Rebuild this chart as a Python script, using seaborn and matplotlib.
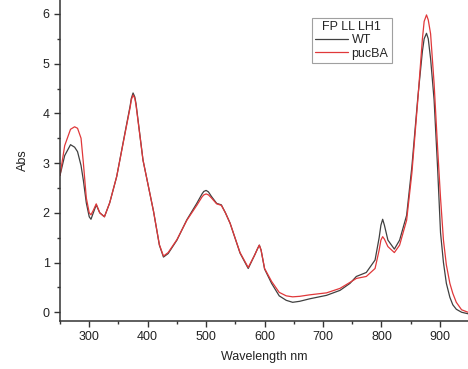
import matplotlib
matplotlib.use("Agg")
import matplotlib.pyplot as plt
import seaborn as sns
import pandas as pd
from matplotlib.ticker import MultipleLocator

wavelength = [250, 258, 268, 275, 280, 286, 290, 295, 300, 303, 307, 312, 318, 326,
              335, 347, 361, 370, 372, 375, 378, 380, 392, 410, 420, 427, 435, 450,
              467, 484, 493, 496, 500, 504, 509, 518, 526, 533, 541, 558, 572, 583,
              588, 591, 594, 600, 612, 625, 637, 648, 660, 677, 706, 729, 746, 757,
              774, 789, 796, 799, 802, 805, 811, 822, 831, 843, 852, 862, 870, 873,
              877, 880, 884, 890, 896, 901, 906, 911, 917, 922, 928, 937, 948]

wt = [2.75, 3.15, 3.37, 3.32, 3.23, 2.95, 2.65, 2.20, 1.92, 1.87, 2.00, 2.16, 2.00, 1.92,
      2.20, 2.73, 3.60, 4.15, 4.30, 4.41, 4.33, 4.20, 3.06, 2.03, 1.35, 1.11, 1.18, 1.45,
      1.86, 2.19, 2.38, 2.43, 2.45, 2.42, 2.33, 2.19, 2.16, 2.00, 1.79, 1.19, 0.88, 1.15,
      1.28, 1.35, 1.25, 0.87, 0.58, 0.33, 0.24, 0.20, 0.22, 0.27, 0.34, 0.44, 0.58, 0.72,
      0.80, 1.05, 1.50, 1.75, 1.87, 1.75, 1.45, 1.27, 1.45, 1.95, 2.93, 4.30, 5.25, 5.50,
      5.61, 5.50, 5.10, 4.27, 2.90, 1.60, 1.00, 0.58, 0.30, 0.15, 0.06, 0.00, -0.03]

pucba = [2.75, 3.35, 3.68, 3.73, 3.70, 3.50, 3.00, 2.30, 2.00, 1.96, 2.05, 2.18, 2.00, 1.92,
         2.20, 2.73, 3.58, 4.12, 4.27, 4.37, 4.30, 4.17, 3.06, 2.03, 1.36, 1.13, 1.20, 1.46,
         1.85, 2.15, 2.32, 2.36, 2.38, 2.36, 2.30, 2.18, 2.15, 2.00, 1.79, 1.20, 0.90, 1.15,
         1.28, 1.35, 1.25, 0.88, 0.62, 0.40, 0.33, 0.31, 0.32, 0.35, 0.39, 0.48, 0.60, 0.68,
         0.72, 0.88, 1.25, 1.45, 1.52, 1.47, 1.32, 1.20, 1.35, 1.85, 2.80, 4.25, 5.50, 5.85,
         5.98, 5.88, 5.60, 4.60, 3.30, 2.30, 1.45, 0.95, 0.58, 0.38, 0.20, 0.05, 0.00]

legend_title = "FP LL LH1"
series_names = ["WT", "pucBA"]

df = pd.concat([
    pd.DataFrame({"Wavelength": wavelength, "Abs": wt, "sample": series_names[0]}),
    pd.DataFrame({"Wavelength": wavelength, "Abs": pucba, "sample": series_names[1]}),
])

sns.set_style("ticks")
plt.rcParams["font.family"] = ["Liberation Sans", "DejaVu Sans"]

fig = plt.figure(figsize=(4.68, 3.69), dpi=100)
ax = fig.add_axes([60 / 468, 1 - 320.7 / 369, 1 - 60 / 468, 320.7 / 369])

sns.lineplot(data=df, x="Wavelength", y="Abs", hue="sample",
             palette={"WT": "#404040", "pucBA": "#e0383a"}, linewidth=0.9,
             sort=False, ax=ax)

ax.set_xlim(250, 948)
ax.set_ylim(-0.17, 6.28)
ax.xaxis.set_major_locator(MultipleLocator(100))
ax.xaxis.set_minor_locator(MultipleLocator(50))
ax.yaxis.set_major_locator(MultipleLocator(1))
ax.yaxis.set_minor_locator(MultipleLocator(0.5))
ax.tick_params(which="major", length=4.5, width=1, color="#333333", labelsize=9,
               labelcolor="#222222", pad=3)
ax.tick_params(which="minor", length=2.5, width=1, color="#333333")
for s in ["top", "right"]:
    ax.spines[s].set_visible(False)
for s in ["left", "bottom"]:
    ax.spines[s].set_color("#333333")
    ax.spines[s].set_linewidth(1.1)

ax.set_xlabel("Wavelength nm", fontsize=9, color="#222222", labelpad=6)
ax.set_ylabel("Abs", fontsize=9, color="#222222", labelpad=10)

leg = ax.legend(title=legend_title, loc="upper left",
                bbox_to_anchor=(0.618, 0.944), borderaxespad=0, fontsize=9,
                title_fontsize=9, frameon=True, fancybox=False, handlelength=2.6,
                handletextpad=0.3, borderpad=0.25, labelspacing=0.1)
leg.get_frame().set_edgecolor("#888888")
leg.get_frame().set_linewidth(0.8)

fig.savefig("out.png", dpi=100)
